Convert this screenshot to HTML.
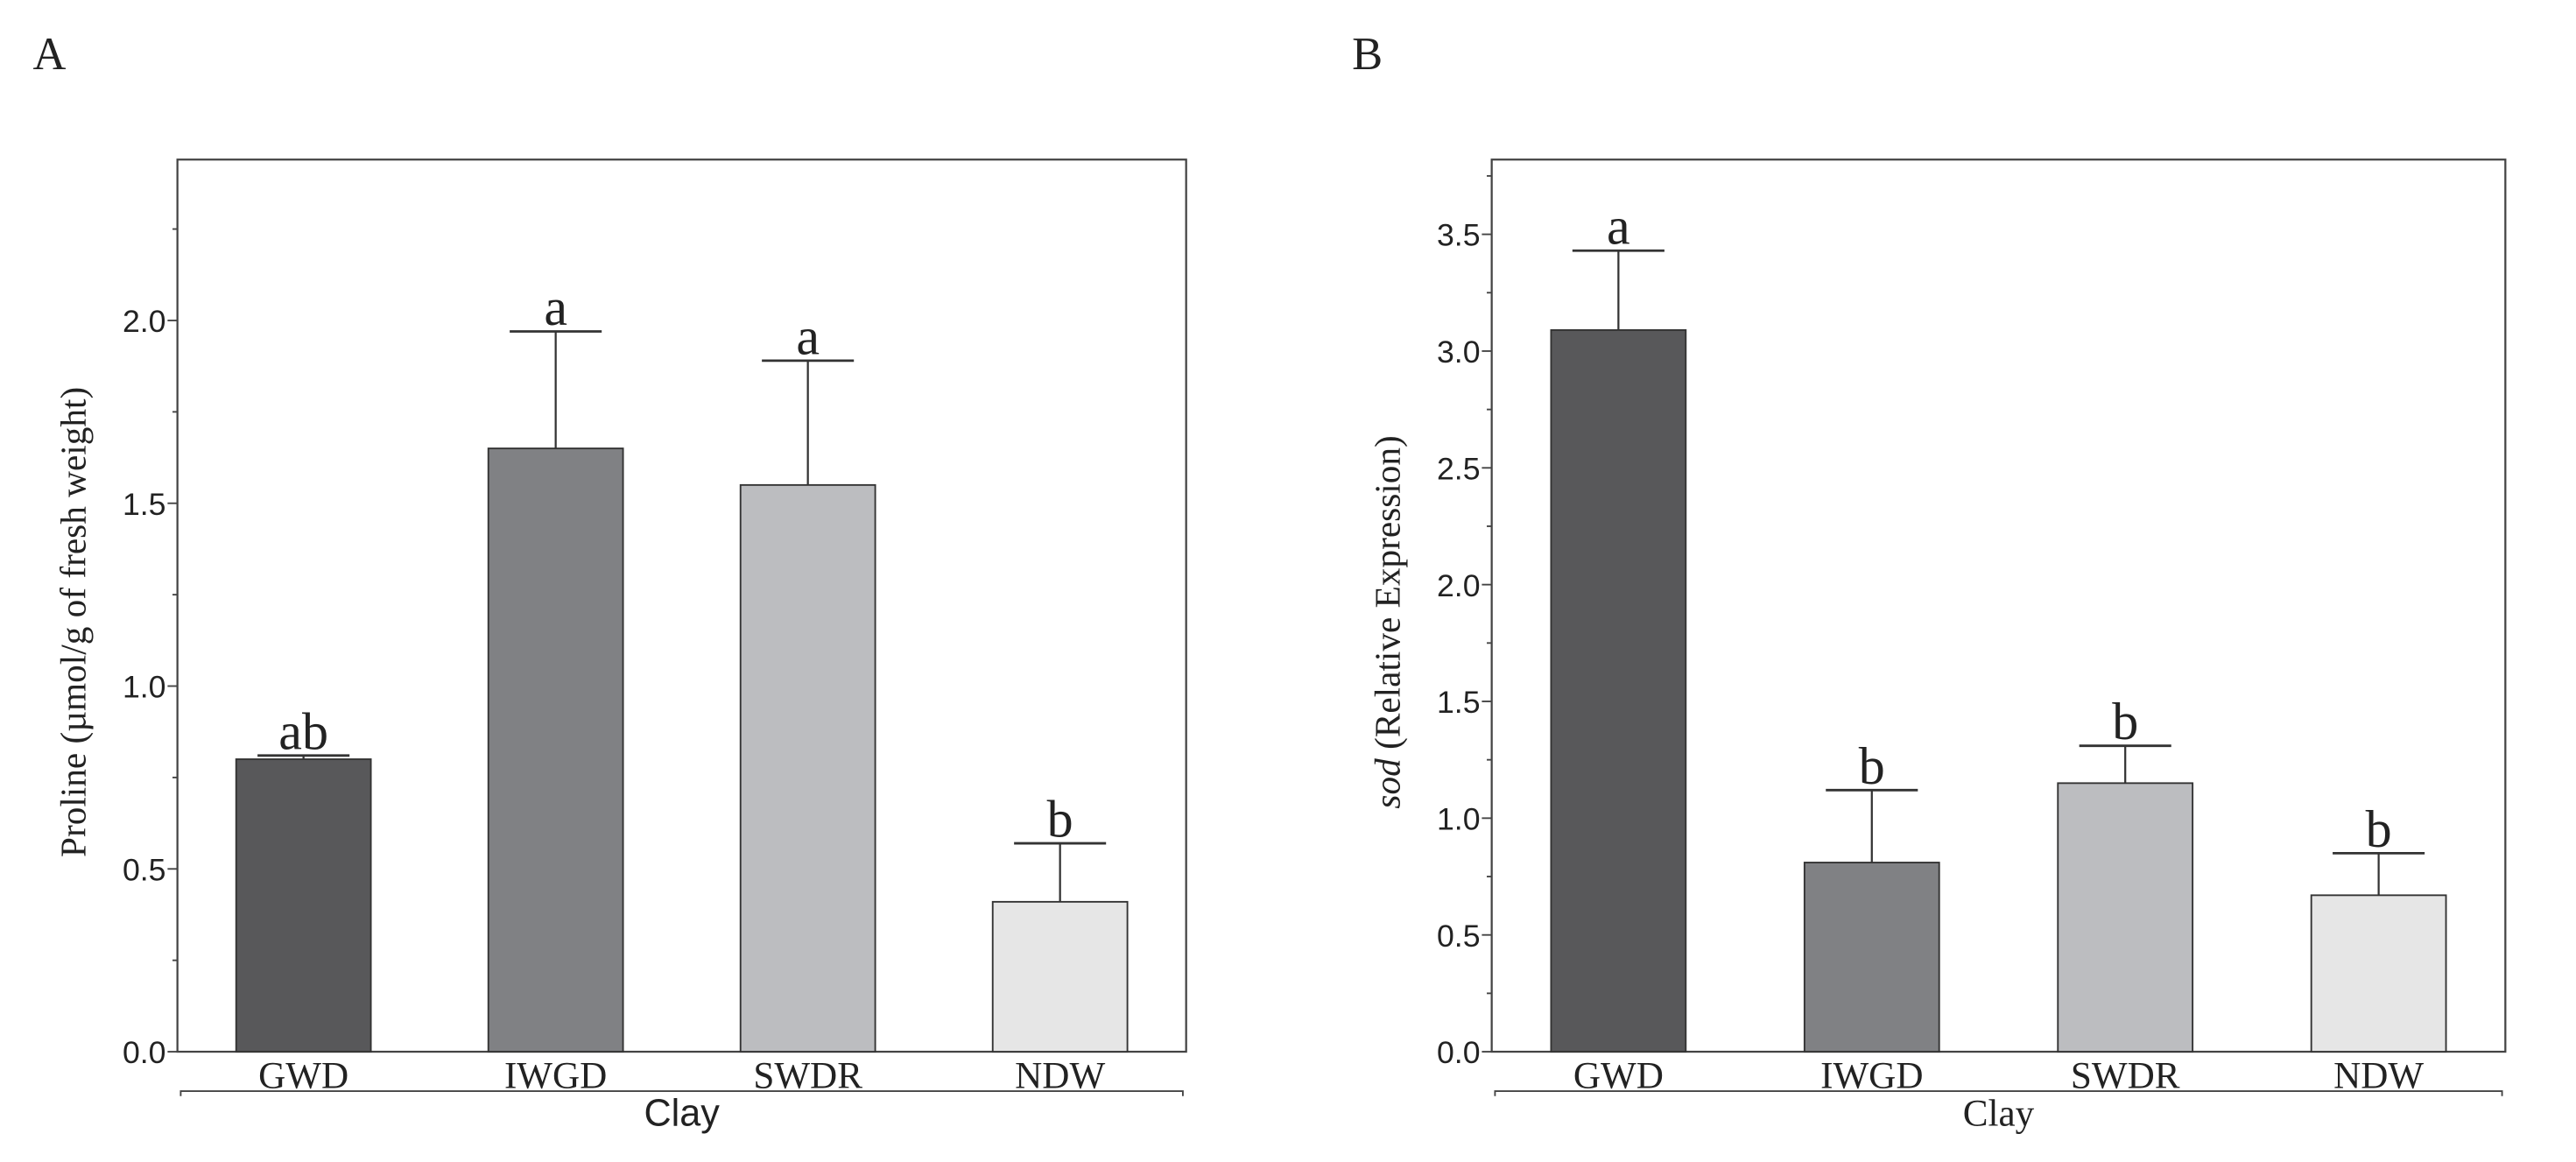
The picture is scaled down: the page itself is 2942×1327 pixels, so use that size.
<!DOCTYPE html>
<html><head><meta charset="utf-8"><style>
html,body{margin:0;padding:0;background:#fff}
svg{display:block}
</style></head><body>
<svg id="fig" width="2942" height="1327" viewBox="0 0 1568 707" xmlns="http://www.w3.org/2000/svg"></svg>
<script>
const categories = ["GWD","IWGD","SWDR","NDW"];
const colors = ["#58585a","#808184","#bcbdc0","#e6e6e6"];
const prolineValues = [0.80,1.65,1.55,0.41];
const prolineErrTop = [0.81,1.97,1.89,0.57];
const prolineLetters = ["ab","a","a","b"];
const prolineTicks = ["0.0","0.5","1.0","1.5","2.0"];
const sodValues = [3.09,0.81,1.15,0.67];
const sodErrTop = [3.43,1.12,1.31,0.85];
const sodLetters = ["a","b","b","b"];
const sodTicks = ["0.0","0.5","1.0","1.5","2.0","2.5","3.0","3.5"];

const NS="http://www.w3.org/2000/svg";
const svg=document.getElementById('fig');
function mk(tag,attrs,parent){const e=document.createElementNS(NS,tag);for(const k in attrs)e.setAttribute(k,attrs[k]);(parent||svg).appendChild(e);return e;}

function panel(opt){
  const g=mk('g',{});
  
  
  const {x0,x1,y0,y1,ymax}=opt;
  const Y=v=>y1-(v/ymax)*(y1-y0);
  const lab=mk('text',{x:opt.labX,y:42,'font-family':'Liberation Serif, serif','font-size':28,fill:'#222'},g);
  lab.textContent=opt.letter;
  
  
  const box=mk('rect',{x:x0,y:y0,width:x1-x0,height:y1-y0,fill:'none',stroke:'#444','stroke-width':1.2},g);
  
  
  const nMinor=Math.floor(ymax/0.25+1e-6);
  for(let i=0;i<=nMinor;i++){
    const v=i*0.25, y=Y(v), major=i%2===0;
    mk('line',{x1:x0-(major?6:3),x2:x0,y1:y,y2:y,stroke:'#444','stroke-width':1},g);
  }
  opt.ticks.forEach(t=>{
    const y=Y(parseFloat(t));
    const tx=mk('text',{x:x0-7,y:y+7,'text-anchor':'end','font-family':'Liberation Sans, sans-serif','font-size':19,fill:'#222'},g);
    tx.textContent=t;
    
    
  });
  const yt=mk('text',{transform:`translate(${x0-56},${(y0+y1)/2+10}) rotate(-90)`,'text-anchor':'middle','font-family':'Liberation Serif, serif','font-size':22,fill:'#222'},g);
  yt.innerHTML=opt.ytitle;
  
  
  const slot=(x1-x0)/categories.length;
  categories.forEach((c,i)=>{
    const cx=x0+slot*(i+0.5), bw=82;
    const b=mk('rect',{x:cx-bw/2,y:Y(opt.values[i]),width:bw,height:y1-Y(opt.values[i]),fill:colors[i],stroke:'#333','stroke-width':1},g);
    
    
    const ey=Y(opt.err[i]);
    mk('line',{x1:cx,x2:cx,y1:Y(opt.values[i]),y2:ey,stroke:'#333','stroke-width':1.2},g);
    const cap=mk('line',{x1:cx-28,x2:cx+28,y1:ey,y2:ey,stroke:'#333','stroke-width':1.5},g);
    
    
    const lt=mk('text',{x:cx,y:ey-4,'text-anchor':'middle','font-family':'Liberation Serif, serif','font-size':32,fill:'#222'},g);
    lt.textContent=opt.letters[i];
    
    
    const xl=mk('text',{x:cx,y:y1+22,'text-anchor':'middle','font-family':'Liberation Serif, serif','font-size':23,fill:'#222'},g);
    xl.textContent=c;
    
    
  });
  mk('path',{d:`M${x0+2},${y1+27} V${y1+24} H${x1-2} V${y1+27}`,fill:'none',stroke:'#444','stroke-width':1},g);
  const cl=mk('text',{x:(x0+x1)/2,y:y1+45,'text-anchor':'middle','font-family':opt.clayFont,'font-size':23,fill:'#222'},g);
  cl.textContent='Clay';
  
  
}
panel({name:'panel-a-proline',letter:'A',labX:20,x0:108,x1:722,y0:97,y1:640,ymax:2.44,ticks:prolineTicks,values:prolineValues,err:prolineErrTop,letters:prolineLetters,ytitle:'Proline (µmol/g of fresh weight)',clayFont:'Liberation Sans, sans-serif'});
panel({name:'panel-b-sod',letter:'B',labX:823,x0:908,x1:1525,y0:97,y1:640,ymax:3.82,ticks:sodTicks,values:sodValues,err:sodErrTop,letters:sodLetters,ytitle:'<tspan font-style="italic">sod</tspan> (Relative Expression)',clayFont:'Liberation Serif, serif'});
</script>
</body></html>
